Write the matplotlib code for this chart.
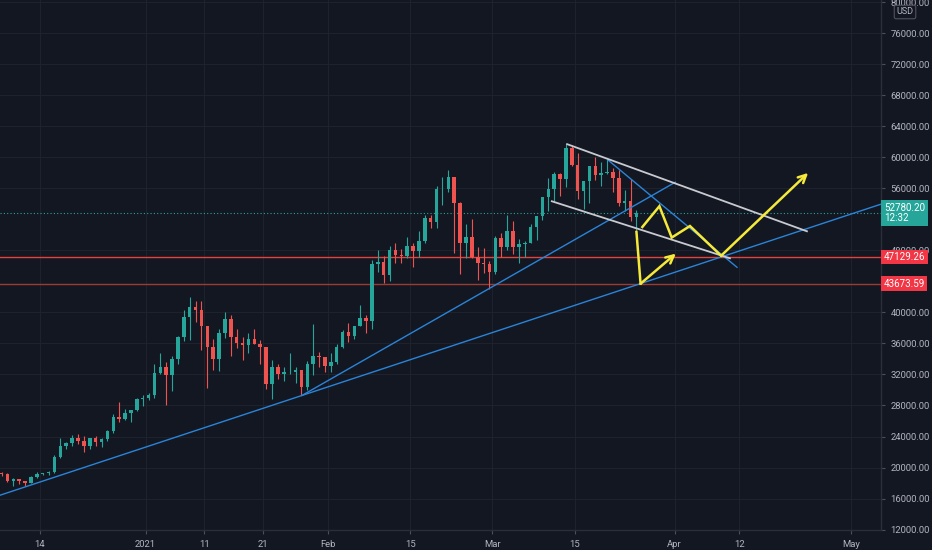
import matplotlib
matplotlib.use("Agg")
import matplotlib.pyplot as plt
import matplotlib.transforms as mtransforms

# BTCUSD daily candles, 2020-12-07 .. 2021-03-25 (x = days since 2020-12-01)
first_day = 6
opens = [19360, 19170, 18320, 18550, 18250, 18040, 18800, 19170, 19270, 19440,
         21380, 22800, 23130, 23860, 23480, 22740, 23820, 23240, 23730, 24710,
         26490, 26280, 27080, 27390, 28880, 29000, 29370, 32200, 33000, 31970,
         33990, 36800, 39400, 40700, 40250, 38240, 35550, 34000, 37400, 39150,
         36800, 36070, 35800, 36630, 35890, 35500, 30830, 33000, 32090, 32280,
         32370, 32570, 30440, 33400, 34320, 34300, 33100, 33540, 35510, 37470,
         36930, 38290, 39250, 38900, 46200, 46480, 44850, 48000, 47400, 47200,
         48600, 47900, 49150, 52150, 51600, 55900, 55900, 57400, 54100, 48900,
         49700, 47100, 46300, 46200, 45140, 49600, 48400, 50550, 48400, 48750,
         48880, 51000, 52400, 54900, 55850, 57800, 57250, 61200, 59000, 55600,
         56900, 58900, 57650, 58000, 58100, 57350, 54100, 54340, 52300]
highs = [19420, 19290, 18640, 18560, 18290, 18950, 19410, 19350, 19570, 21560,
         23770, 23280, 24170, 24290, 24100, 23840, 24100, 23800, 24790, 26860,
         28400, 27500, 27400, 28990, 29300, 29600, 33300, 34800, 33600, 34400,
         36900, 40300, 41950, 41400, 41400, 38300, 36600, 37800, 40100, 39700,
         37900, 36800, 37400, 37850, 36400, 35600, 33800, 33400, 32900, 34800,
         32900, 32600, 33700, 38500, 34900, 34300, 34700, 35900, 37700, 38600,
         38300, 40900, 39700, 46700, 48100, 47300, 48600, 48900, 48200, 49700,
         49000, 50500, 52600, 52500, 56300, 57500, 58350, 57500, 54200, 51400,
         52000, 48400, 48300, 46600, 49800, 50200, 52600, 51800, 49500, 49200,
         51400, 52400, 54900, 57300, 58100, 58000, 61700, 61600, 60500, 56900,
         58900, 60000, 59400, 59800, 58600, 58400, 55800, 57200, 53200]
lows = [18900, 18200, 17650, 17910, 17570, 18020, 18710, 19000, 19050, 19300,
        21240, 22350, 22770, 23080, 22000, 22400, 22720, 22700, 23450, 24500,
        25840, 26100, 25890, 27340, 27960, 28700, 29000, 32000, 28100, 29900,
        33300, 36300, 36500, 38700, 35200, 30300, 32600, 32400, 36700, 34400,
        35400, 33900, 34800, 35900, 33400, 30100, 28800, 31400, 31100, 32100,
        30900, 29300, 30000, 31900, 32900, 32300, 32300, 33400, 35400, 36200,
        36600, 38200, 37400, 37900, 45200, 43800, 44100, 46400, 46300, 47000,
        45900, 47100, 49000, 50900, 50900, 53900, 55500, 47600, 45000, 47000,
        47000, 44150, 45100, 43000, 45000, 47100, 48100, 47500, 46300, 47100,
        48900, 49300, 51900, 53100, 54300, 55000, 56100, 58900, 54600, 53300,
        54100, 57000, 56300, 57800, 55500, 53700, 53000, 51800, 50400]
closes = [19170, 18320, 18550, 18250, 18040, 18800, 19170, 19270, 19440, 21380,
          22800, 23130, 23860, 23480, 22740, 23820, 23240, 23730, 24710, 26490,
          26280, 27080, 27390, 28880, 29000, 29370, 32200, 33000, 31970, 33990,
          36800, 39400, 40700, 40250, 38240, 35550, 34000, 37400, 39150, 36800,
          36070, 35800, 36630, 35890, 35500, 30830, 33000, 32090, 32280, 32370,
          32570, 30440, 33400, 34320, 34300, 33100, 33540, 35510, 37470, 36930,
          38290, 39250, 38900, 46200, 46480, 44850, 48000, 47400, 47200, 48600,
          47900, 49150, 52150, 51600, 55900, 55900, 57400, 54100, 48900, 49700,
          47100, 46300, 46200, 45140, 49600, 48400, 50550, 48400, 48750, 48880,
          51000, 52400, 54900, 55850, 57800, 57250, 61200, 59000, 55600, 56900,
          58900, 57650, 58000, 58100, 57350, 54100, 54340, 52300, 52780]

last_price = 52780.20
levels = [47129.26, 43673.59]

# drawings (day, price)
blue_long = [(7.1, 16650), (57.6, 29290)]
blue_steep = [(57.6, 29290), (121.1, 56770)]
blue_down = [(109.7, 59610), (131.6, 45810)]
white_top = [(102.7, 61680), (143.5, 50450)]
white_bottom = [(100.1, 54320), (130.4, 46970)]
yellow_zigzag = [(115.5, 51000), (118.4, 53680), (120.5, 49640), (123.6, 51130),
                 (128.9, 47300), (143.7, 57970)]
yellow_dip = [(114.5, 50360), (115.2, 43700), (121.2, 47570)]

x_ticks = [13, 31, 41, 51, 62, 76, 90, 104, 121, 132, 151]
x_labels = ['14', '2021', '11', '21', 'Feb', '15', 'Mar', '15', 'Apr', '12', 'May']
y_ticks = [80000, 76000, 72000, 68000, 64000, 60000, 56000, 48000,
           40000, 36000, 32000, 28000, 24000, 20000, 16000, 12000]

BG = '#131722'
GRID = '#1e222d'
TXT = '#b2b5be'
UP = '#26a69a'
DOWN = '#ef5350'
FONT = 'Roboto'

fig = plt.figure(figsize=(9.32, 5.5), dpi=100, facecolor=BG)
ax = fig.add_axes([0, 20 / 550, 881 / 932, 530 / 550])
ax.set_facecolor(BG)

# candles
xs = [first_day + i + 0.5 for i in range(len(closes))]
for x, o, h, l, c in zip(xs, opens, highs, lows, closes):
    col = UP if c >= o else DOWN
    ax.vlines(x, l, h, color=col, lw=0.8, zorder=3)
    ax.bar(x, max(abs(c - o), 60), bottom=min(o, c), width=0.6, color=col,
           linewidth=0, zorder=3)

# horizontal levels
ax.axhline(levels[0], color='#e0443c', lw=1.0, zorder=2)
ax.axhline(levels[1], color='#9c3a36', lw=1.0, zorder=2)
ax.axhline(last_price, color=UP, lw=0.8, ls=(0, (1, 2)), zorder=2)

# trend lines
ax.axline(blue_long[0], blue_long[1], color='#2a84d8', lw=1.0, zorder=4)
for seg in (blue_steep, blue_down):
    ax.plot(*zip(*seg), color='#2a84d8', lw=1.0, zorder=4)
for seg in (white_top, white_bottom):
    ax.plot(*zip(*seg), color='#c8cad0', lw=1.3, zorder=4)

# yellow projection paths
for path in (yellow_zigzag, yellow_dip):
    ax.plot(*zip(*path[:-1]), color='#f5e93a', lw=1.8, zorder=5,
            solid_joinstyle='miter')
    ax.annotate('', xy=path[-1], xytext=path[-2],
                arrowprops=dict(arrowstyle='->', color='#f5e93a', lw=1.8,
                                mutation_scale=14, shrinkA=0, shrinkB=0),
                zorder=5)

ax.set_xlim(6.23, 156.1)
ax.set_ylim(11950, 80258)

ax.set_xticks(x_ticks)
ax.set_xticklabels(x_labels)
ax.set_yticks(y_ticks)
ax.set_yticklabels([f'{v:.2f}' for v in y_ticks])
ax.yaxis.tick_right()
ax.grid(True, color=GRID, lw=0.8, zorder=0)
ax.tick_params(axis='both', colors='#4a4e59', labelcolor=TXT, labelsize=6.8,
               length=3, width=0.8)
ax.tick_params(axis='y', pad=4)
ax.tick_params(axis='x', pad=4)
for lab in ax.get_xticklabels() + ax.get_yticklabels():
    lab.set_fontfamily(FONT)

for side in ('top', 'left'):
    ax.spines[side].set_visible(False)
for side in ('right', 'bottom'):
    ax.spines[side].set_color('#2a2e39')
    ax.spines[side].set_linewidth(1.0)

# price labels on the right scale
trans = mtransforms.blended_transform_factory(ax.transAxes, ax.transData)
off = mtransforms.ScaledTranslation(2 / 72, 0, fig.dpi_scale_trans)
ax.text(1.0, last_price, f'{last_price:.2f}\n12:32', transform=trans + off,
        ha='left', va='center', fontsize=7, color='white', family=FONT,
        linespacing=1.0,
        bbox=dict(boxstyle='square,pad=0.3', fc=UP, ec='none'),
        clip_on=False, zorder=10)
for lv in levels:
    ax.text(1.0, lv, f'{lv:.2f}', transform=trans + off, ha='left', va='center',
            fontsize=7, color='white', family=FONT,
            bbox=dict(boxstyle='square,pad=0.25', fc='#f23645', ec='none'),
            clip_on=False, zorder=10)

fig.text(905 / 932, 1 - 12 / 550, 'USD', ha='center', va='center', fontsize=6.5,
         color=TXT, family=FONT,
         bbox=dict(boxstyle='round,pad=0.25,rounding_size=0.2', fc=BG,
                   ec='#50535e', lw=0.8))

fig.savefig('out.png', dpi=100, facecolor=BG)
